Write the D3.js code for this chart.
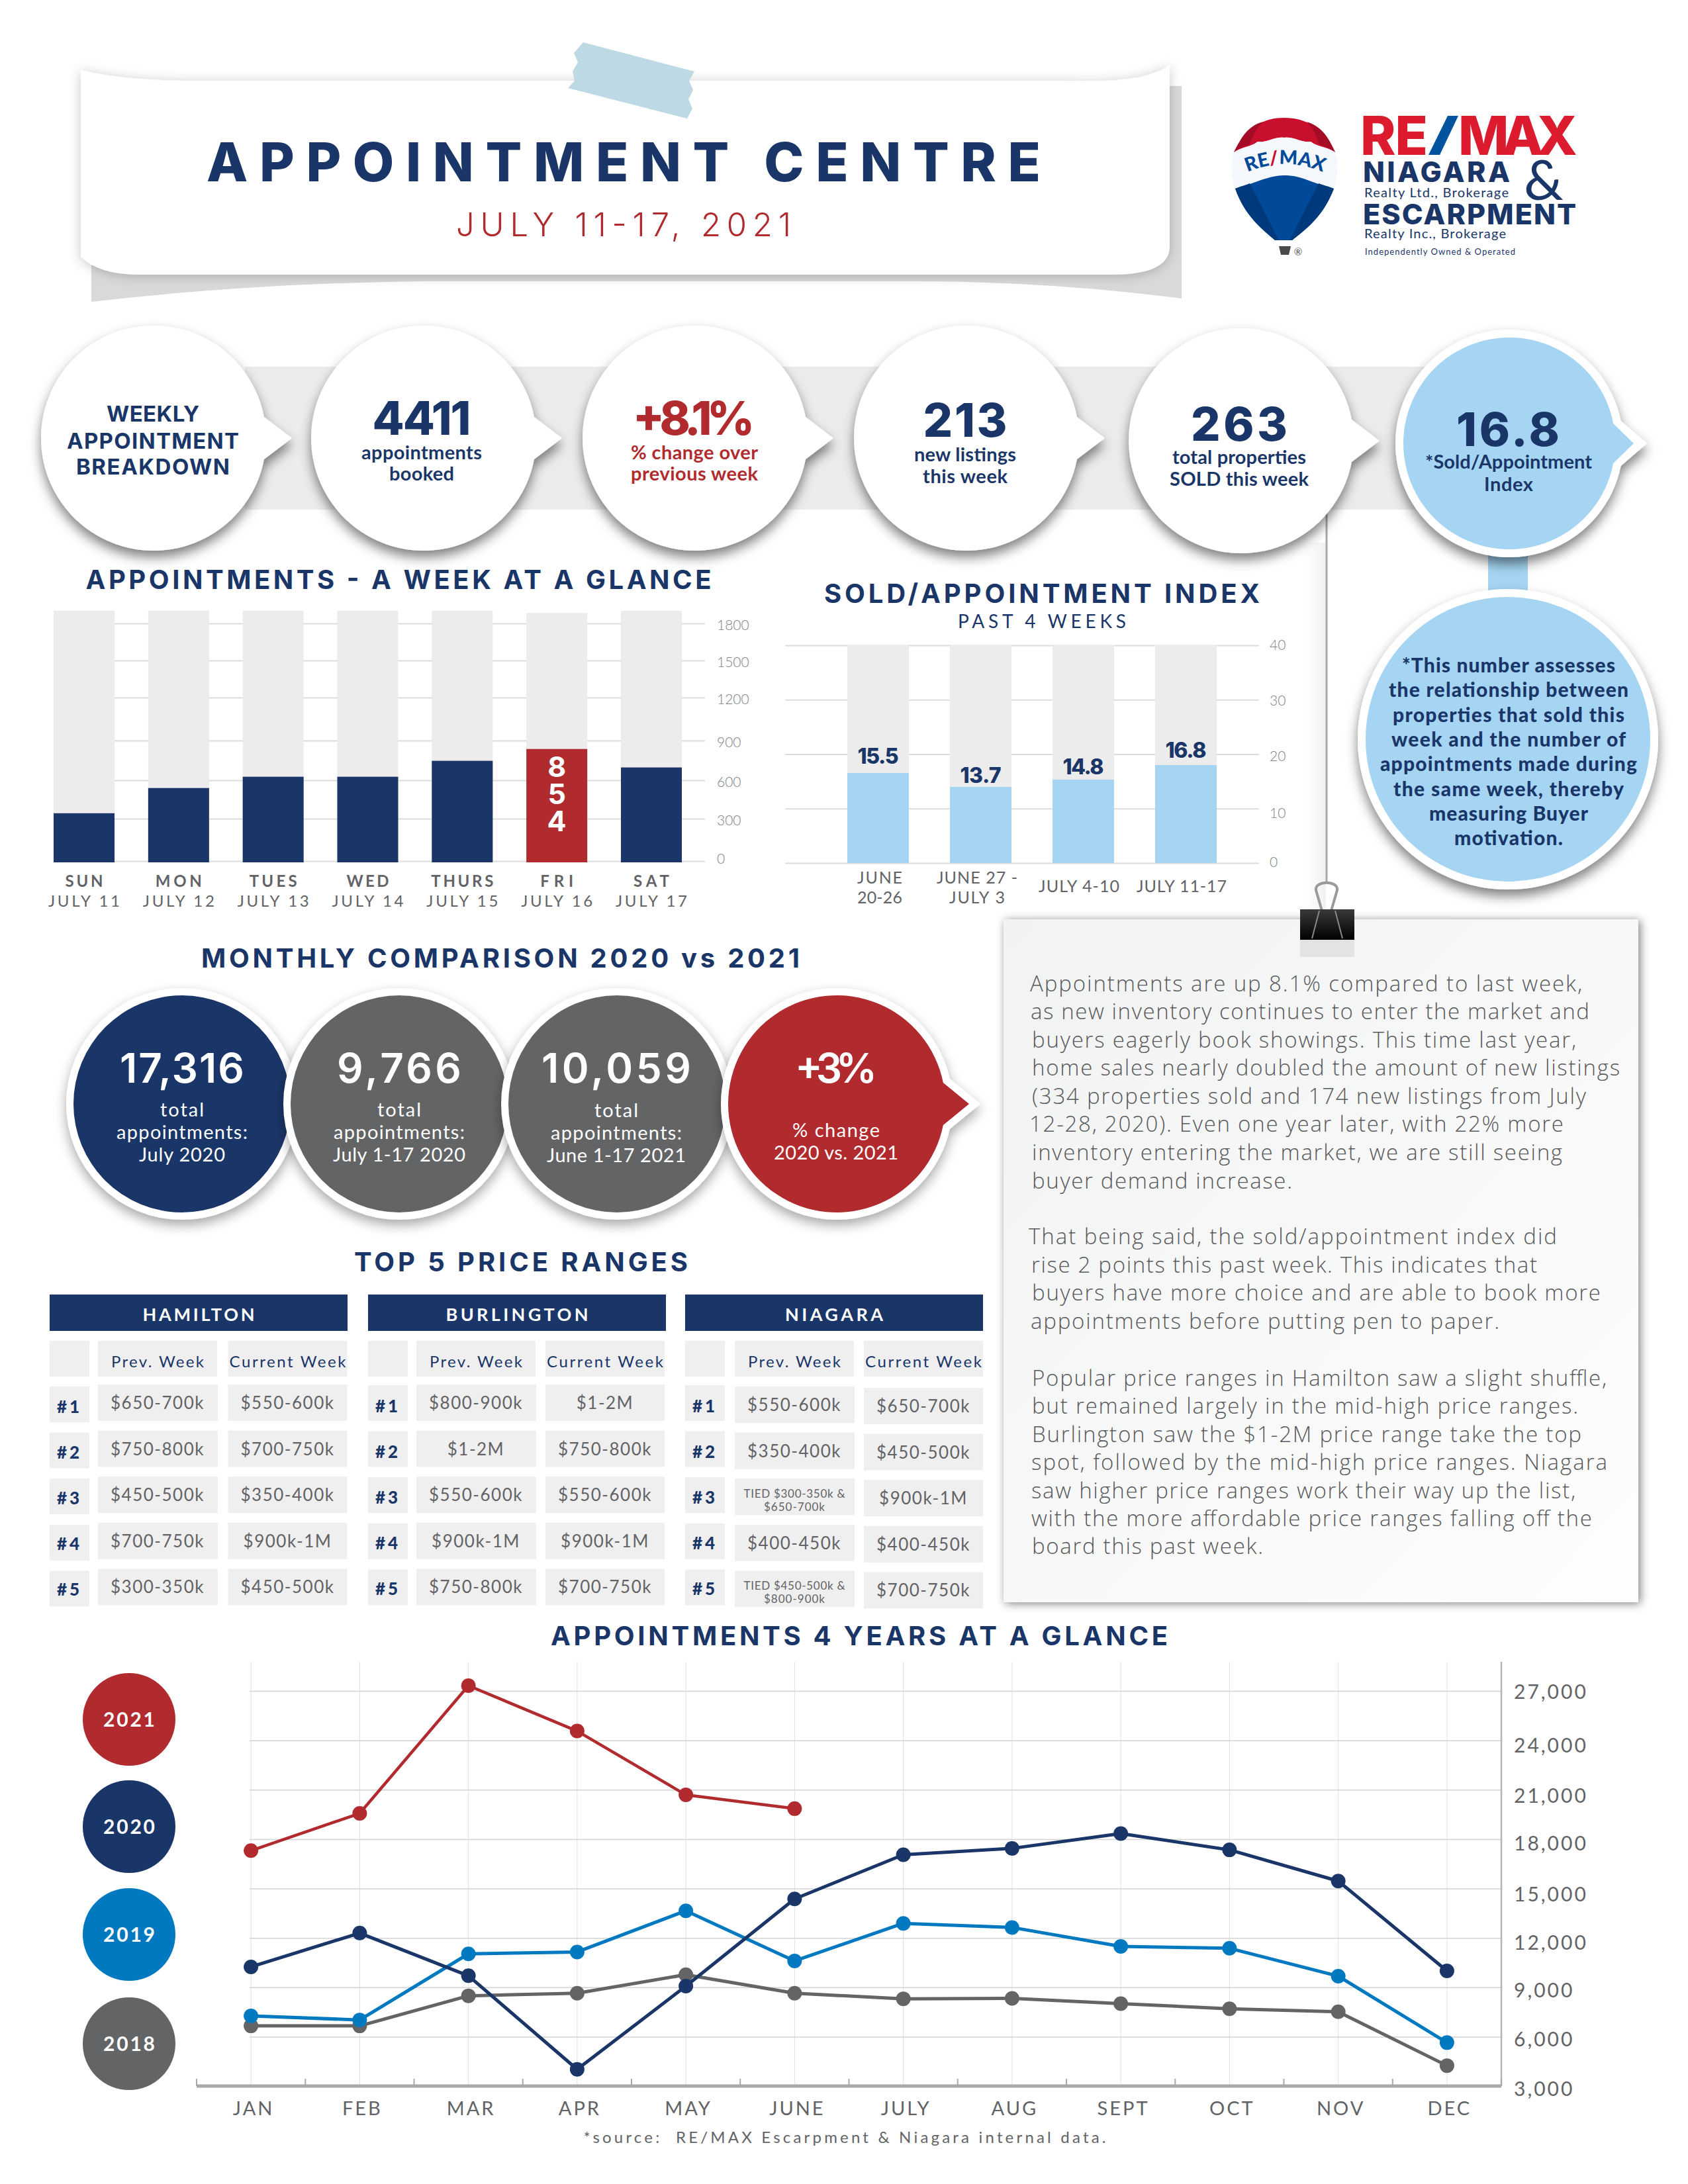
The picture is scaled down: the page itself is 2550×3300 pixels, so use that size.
<!DOCTYPE html>
<html><head><meta charset="utf-8">
<script src="https://cdnjs.cloudflare.com/ajax/libs/d3/7.8.5/d3.min.js"></script>
<style>html,body{margin:0;padding:0;background:#fff}svg{display:block}text{font-family:Lato,"Open Sans",sans-serif}</style>
</head><body>
<script>
// ---------- data ----------
const days=["SUN","MON","TUES","WED","THURS","FRI","SAT"];
const dates=["JULY 11","JULY 12","JULY 13","JULY 14","JULY 15","JULY 16","JULY 17"];
const appts=[370,560,645,645,765,854,715];
const apptsBack=[1895,1895,1895,1895,1895,1880,1895];
const weekTicks=[0,300,600,900,1200,1500,1800];
const indexWeeks=[["JUNE","20-26"],["JUNE 27 -","JULY 3"],["JULY 4-10"],["JULY 11-17"]];
const indexVals=[15.5,13.7,14.8,16.8];
const indexTicks=[0,10,20,30,40];
const months=["JAN","FEB","MAR","APR","MAY","JUNE","JULY","AUG","SEPT","OCT","NOV","DEC"];
const y2021=[17300,19560,27320,24565,20685,19850];
const y2020=[10240,12294,9700,4015,9068,14369,17050,17437,18340,17347,15452,9993];
const y2019=[7263,7015,11030,11143,13647,10602,12880,12632,11482,11369,9677,5639];
const y2018=[6654,6654,8482,8640,9767,8640,8301,8324,8008,7692,7511,4241];
const yearTicks=[3000,6000,9000,12000,15000,18000,21000,24000,27000];
const hamPrev=["$650-700k","$750-800k","$450-500k","$700-750k","$300-350k"];
const hamCurr=["$550-600k","$700-750k","$350-400k","$900k-1M","$450-500k"];
const burPrev=["$800-900k","$1-2M","$550-600k","$900k-1M","$750-800k"];
const burCurr=["$1-2M","$750-800k","$550-600k","$900k-1M","$700-750k"];
const niaPrev=["$550-600k","$350-400k","TIED $300-350k &|$650-700k","$400-450k","TIED $450-500k &|$800-900k"];
const niaCurr=["$650-700k","$450-500k","$900k-1M","$400-450k","$700-750k"];
const noteLines=["Appointments are up 8.1% compared to last week,","as new inventory continues to enter the market and","buyers eagerly book showings. This time last year,","home sales nearly doubled the amount of new listings","(334 properties sold and 174 new listings from July","12-28, 2020). Even one year later, with 22% more","inventory entering the market, we are still seeing","buyer demand increase.","That being said, the sold/appointment index did","rise 2 points this past week. This indicates that","buyers have more choice and are able to book more","appointments before putting pen to paper.","Popular price ranges in Hamilton saw a slight shuffle,","but remained largely in the mid-high price ranges.","Burlington saw the $1-2M price range take the top","spot, followed by the mid-high price ranges. Niagara","saw higher price ranges work their way up the list,","with the more affordable price ranges falling off the","board this past week."];
const explainLines=["*This number assesses","the relationship between","properties that sold this","week and the number of","appointments made during","the same week, thereby","measuring Buyer","motivation."];

// ---------- palette ----------
const NAVY="#1a3668",RED="#b12a2e",SKY="#a5d5f3",BLUE="#0079c1",DGRAY="#636466",TXT="#626366",TICK="#808285",BAR="#ececec",GRID="#dcdcdc";
const HEAD="Inter";

const svg=d3.select("body").append("svg").attr("width",2550).attr("height",3300).attr("viewBox","0 0 2550 3300");
const defs=svg.append("defs");
function shadow(id,dx,dy,sd,op){const f=defs.append("filter").attr("id",id).attr("x","-30%").attr("y","-30%").attr("width","160%").attr("height","170%");
 f.append("feDropShadow").attr("dx",dx).attr("dy",dy).attr("stdDeviation",sd).attr("flood-color","#000").attr("flood-opacity",op);}
shadow("bub",0,10,9,.5);shadow("soft",0,8,9,.35);shadow("ban",0,2,9,.22);shadow("panel",3,2,7,.5);
const lg=defs.append("linearGradient").attr("id","pg").attr("x1",0).attr("y1",0).attr("x2",1).attr("y2",1);
lg.append("stop").attr("offset",0).attr("stop-color","#f1f2f2");lg.append("stop").attr("offset",1).attr("stop-color","#fdfdfe");
const cg=defs.append("linearGradient").attr("id","clip").attr("x1",0).attr("y1",0).attr("x2",0).attr("y2",1);
cg.append("stop").attr("offset",0).attr("stop-color","#3a3a3a");cg.append("stop").attr("offset",1).attr("stop-color","#000");
const sg=defs.append("linearGradient").attr("id","side").attr("x1",0).attr("y1",0).attr("x2",1).attr("y2",0);
sg.append("stop").attr("offset",0).attr("stop-color","#f3f3f3").attr("stop-opacity",0);sg.append("stop").attr("offset",1).attr("stop-color","#f1f1f1");

function T(p,str,x,y,o={}){const t=p.append("text").attr("x",x).attr("y",y).text(str)
 .attr("font-size",o.s||24).attr("font-weight",o.w||400).attr("fill",o.c||NAVY).attr("text-anchor",o.a||"middle");
 if(o.f)t.style("font-family",o.f);
 if(o.len){t.attr("textLength",o.len).attr("lengthAdjust","spacing");}
 if(o.ls)t.attr("letter-spacing",o.ls);
 if(o.pre)t.style("white-space","pre");
 return t;}
function bubblePath(cx,cy,r,tip,h){const dx=Math.sqrt(r*r-h*h);
 return `M${cx+dx},${cy-h}A${r},${r} 0 1 0 ${cx+dx},${cy+h}L${tip},${cy}Z`;}

// ---------- banner ----------
const hdr=svg.append("g");
hdr.append("path").attr("d","M1700,130L1785,130L1785,451Q1580,425 1380,425L640,425Q380,428 138,456L138,380L400,380Z").attr("fill","#d9d9d9");
hdr.append("path").attr("d","M122,106Q190,122 290,122L1620,122Q1730,126 1767,98L1767,372Q1767,415 1680,415L210,415Q150,415 122,388Z").attr("fill","#fff").attr("filter","url(#ban)");
hdr.append("path").attr("d","M881,64L1049,108L1041,122L1047,136L1040,150L1046,164L1038,179L858,133L868,122L865,108L873,94L867,80Z").attr("fill","#bcd9e4");
T(hdr,"APPOINTMENT CENTRE",942,274,{s:81,w:800,f:HEAD,len:1260});
T(hdr,"JULY 11-17, 2021",942,357,{s:49,w:300,f:HEAD,c:RED,len:506});

// ---------- logo ----------
const logo=svg.append("g");
logo.append("path").attr("d","M1864,230C1885,190 1910,178 1940,178C1972,178 1998,192 2017,230C2005,222 1990,222 1980,214C1965,216 1955,206 1940,208C1925,206 1915,216 1900,214C1890,222 1876,222 1864,230Z").attr("fill","#c8102e");
logo.append("path").attr("d","M1864,230C1876,222 1890,222 1900,214C1915,216 1925,206 1940,208C1955,206 1965,216 1980,214C1990,222 2005,222 2017,230C2023,250 2020,270 2015,285C2000,280 1990,278 1975,272C1960,266 1950,265 1940,265C1928,265 1918,268 1905,272C1890,278 1880,280 1866,285C1860,268 1858,250 1864,230Z").attr("fill","#f4f7fc");
logo.append("path").attr("d","M1866,285C1880,280 1890,278 1905,272C1918,268 1928,265 1940,265C1950,265 1960,266 1975,272C1990,278 2000,280 2015,285C2000,325 1975,345 1952,363L1926,363C1905,345 1880,325 1866,285Z").attr("fill","#004a99");
logo.append("path").attr("d","M1866,285C1875,281 1882,280 1888,277L1932,363L1926,363C1905,345 1880,325 1866,285ZM2015,285C2006,281 1999,280 1992,277L1948,363L1952,363C1975,345 2000,325 2015,285Z").attr("fill","#003a7d");
logo.append("path").attr("d","M1864,230C1876,222 1882,220 1888,218C1894,200 1900,192 1908,184C1885,190 1875,208 1864,230ZM2017,230C2005,222 1999,220 1993,218C1987,200 1982,192 1974,184C1998,192 2007,208 2017,230Z").attr("fill","#a50d26");
logo.append("path").attr("d","M1932,372L1950,372L1947,385L1935,385Z").attr("fill","#4a4a4a");
T(logo,"®",1961,386,{s:15,c:"#555"});
logo.append("path").attr("id","balloonArc").attr("d","M1880,262Q1941,234 2003,262").attr("fill","none");
const bt=logo.append("text").attr("font-size",29).attr("font-weight",900).attr("fill","#004a99");
const tp=bt.append("textPath").attr("href","#balloonArc").attr("startOffset","50%").attr("text-anchor","middle");
tp.append("tspan").text("RE");tp.append("tspan").attr("fill","#c8102e").text("/");tp.append("tspan").text("MAX");
T(logo,"RE",2055,234,{s:81,w:800,f:HEAD,c:"#dc1c2e",a:"start",len:102});
logo.append("path").attr("d","M2158,234L2187,175L2203,175L2175,234Z").attr("fill","#00539f");
T(logo,"MAX",2203,234,{s:81,w:800,f:HEAD,c:"#dc1c2e",a:"start",len:180});
T(logo,"NIAGARA",2059,275,{s:43,w:800,f:HEAD,a:"start",len:222});
T(logo,"Realty Ltd., Brokerage",2061,298,{s:20,w:400,a:"start",len:218});
T(logo,"ESCARPMENT",2059,339,{s:43,w:800,f:HEAD,a:"start",len:322});
T(logo,"Realty Inc., Brokerage",2061,360,{s:20,w:400,a:"start",len:214});
T(logo,"Independently Owned & Operated",2062,385,{s:13,w:400,a:"start",len:227});
T(logo,"&",2332,302,{s:84,w:400});

// ---------- stat bubbles ----------
const stats=svg.append("g");
stats.append("rect").attr("x",370).attr("y",554).attr("width",1800).attr("height",216).attr("fill","#ececec");
stats.append("rect").attr("x",1971).attr("y",820).attr("width",32).attr("height",560).attr("fill","url(#side)");
stats.append("line").attr("x1",2004).attr("x2",2004).attr("y1",770).attr("y2",1335).attr("stroke","#a7a9ac").attr("stroke-width",3);
[[232,662],[640,662],[1050,662],[1460,662],[1875,666]].forEach(([cx,cy])=>{
 stats.append("path").attr("d",bubblePath(cx,cy,170,cx+209,32)).attr("fill","#fff").attr("filter","url(#bub)");});
stats.append("rect").attr("x",2248).attr("y",835).attr("width",60).attr("height",60).attr("fill",SKY);
stats.append("path").attr("d",bubblePath(2280,670,172,2488,34)).attr("fill","#fff").attr("filter","url(#bub)");
stats.append("path").attr("d",bubblePath(2280,670,160,2468,30)).attr("fill",SKY);
T(stats,"WEEKLY",231,637,{s:33,w:700,f:HEAD,len:140});
T(stats,"APPOINTMENT",231,678,{s:33,w:700,f:HEAD,len:260});
T(stats,"BREAKDOWN",231,717,{s:33,w:700,f:HEAD,len:232});
const big=(s,x,y,l,c)=>T(stats,s,x+2,y,{s:70,w:800,f:HEAD,c:c||NAVY,len:l});
const sm=(s,x,y,l,c)=>T(stats,s,x+2,y+1,{s:29,w:700,c:c||NAVY,len:l});
big("4411",635,657,149);sm("appointments",635,693,182);sm("booked",635,725,98);
big("+8.1%",1046,657,184,RED);sm("% change over",1047,693,192,RED);sm("previous week",1047,725,192,RED);
big("213",1456,660,127);sm("new listings",1456,696,154);sm("this week",1456,729,128);
big("263",1870,666,146);sm("total properties",1870,700,202);sm("SOLD this week",1870,733,210);
big("16.8",2276,674,156);sm("*Sold/Appointment",2277,707,252);sm("Index",2277,741,74);
// explanation bubble
stats.append("circle").attr("cx",2278).attr("cy",1117).attr("r",227).attr("fill","#fff").attr("filter","url(#bub)");
stats.append("circle").attr("cx",2278).attr("cy",1117).attr("r",215).attr("fill",SKY);
const explainW=[322,362,350,354,388,348,240,164];
explainLines.forEach((l,i)=>T(stats,l,2279,1016+i*37.3,{s:30,w:900,len:explainW[i]}));

// ---------- week chart ----------
const wk=svg.append("g");
T(wk,"APPOINTMENTS - A WEEK AT A GLANCE",602,890,{s:40,w:700,f:HEAD,len:945});
const xWeek=d3.scaleBand().domain(days).range([81,1030]).paddingInner(50.8/142.8).paddingOuter(0);
const yWeek=d3.scaleLinear().domain([0,1800]).range([1303,942]);
const yWeekAxis=d3.scaleLinear().domain(weekTicks).range([1301,1237,1179,1119,1054,998,942]);
const wa=wk.append("g").attr("transform","translate(1065,0)").call(d3.axisRight(yWeekAxis).tickValues(weekTicks).tickFormat(d=>d).tickSize(-984).tickPadding(18));
wa.select(".domain").remove();wa.selectAll("line").attr("stroke",GRID).attr("stroke-width",2);
wa.selectAll("text").attr("font-size",21).attr("font-weight",300).attr("fill",TICK).attr("dy",d=>d==0?3:9);
wk.selectAll(".bk").data(days).join("rect").attr("x",d=>xWeek(d)).attr("width",xWeek.bandwidth())
 .attr("y",(d,i)=>yWeek(apptsBack[i])).attr("height",(d,i)=>yWeek(0)-yWeek(apptsBack[i])).attr("fill",BAR);
wk.selectAll(".fg").data(appts).join("rect").attr("x",(d,i)=>xWeek(days[i])).attr("width",xWeek.bandwidth())
 .attr("y",d=>yWeek(d)).attr("height",d=>yWeek(0)-yWeek(d)).attr("fill",(d,i)=>days[i]=="FRI"?RED:NAVY);
const maxIdx=appts.indexOf(d3.max(appts));
String(appts[maxIdx]).split("").forEach((ch,i)=>T(wk,ch,xWeek(days[maxIdx])+xWeek.bandwidth()/2,1174+i*41,{s:43,w:700,f:HEAD,c:"#fff"}));
const dayW=[57,70,72,64,94,50,54];
days.forEach((d,i)=>{const cx=xWeek(d)+xWeek.bandwidth()/2;
 T(wk,d,cx,1340,{s:24,w:700,c:TXT,len:dayW[i]});
 T(wk,dates[i],cx,1370,{s:24,w:400,c:TXT,len:108});});

// ---------- index chart ----------
const ix=svg.append("g");
T(ix,"SOLD/APPOINTMENT INDEX",1574,911,{s:40,w:700,f:HEAD,len:658});
T(ix,"PAST 4 WEEKS",1574,949,{s:28,w:400,len:254});
const yIndex=d3.scaleLinear().domain([0,40]).range([1304,975]);
const yIndexBar=d3.scaleLinear().domain([0,13.7,14.8,15.5,16.8]).range([1304,1189,1178,1168,1156]);
const xIndex=d3.scaleBand().domain(d3.range(4)).range([1280,1838]).paddingInner(.4).paddingOuter(0);
const ia=ix.append("g").attr("transform","translate(1902,0)").call(d3.axisRight(yIndex).tickValues(indexTicks).tickSize(-716).tickPadding(16));
ia.select(".domain").remove();ia.selectAll("line").attr("stroke",GRID).attr("stroke-width",2);
ia.selectAll("text").attr("font-size",21).attr("font-weight",300).attr("fill",TICK).attr("dy",d=>({40:6,30:8,20:10,10:14,0:5})[d]);
ix.selectAll(".bk").data(indexVals).join("rect").attr("x",(d,i)=>xIndex(i)).attr("width",xIndex.bandwidth())
 .attr("y",yIndex(40)).attr("height",yIndex(0)-yIndex(40)).attr("fill",BAR);
ix.selectAll(".fg").data(indexVals).join("rect").attr("x",(d,i)=>xIndex(i)).attr("width",xIndex.bandwidth())
 .attr("y",d=>yIndexBar(d)).attr("height",d=>yIndexBar(0)-yIndexBar(d)).attr("fill",SKY);
const idxGap=[14,6,8,11];
indexVals.forEach((v,i)=>T(ix,v.toFixed(1),xIndex(i)+xIndex.bandwidth()/2,yIndexBar(v)-idxGap[i],{s:32,w:800,f:HEAD,len:62}));
const idxCx=[1329,1476,1630,1785];
indexWeeks.forEach((ls,i)=>{
 if(ls.length==2){const w=[[68,68],[122,84]][i];T(ix,ls[0],idxCx[i],1335,{s:25,w:400,c:TXT,len:w[0]});T(ix,ls[1],idxCx[i],1365,{s:25,w:400,c:TXT,len:w[1]});}
 else T(ix,ls[0],idxCx[i],1348,{s:25,w:400,c:TXT,len:i==2?122:136});});

// ---------- note panel ----------
const np=svg.append("g");
np.append("rect").attr("x",1516).attr("y",1389).attr("width",959).attr("height",1032).attr("fill","url(#pg)").attr("filter","url(#panel)");
const noteY=[1500,1542,1585,1627,1670,1712,1755,1797.5,1882,1925,1967,2010,2096,2138,2181,2223,2266,2308,2350];
const noteX=[1556,1557,1559,1559,1559,1555,1559,1559,1554,1558,1559,1557,1559,1559,1559,1558,1558,1558,1559];
const noteW=[834,844,822,888,837,807,801,393,798,764,859,708,868,825,830,870,822,847,349];
noteLines.forEach((l,i)=>T(np,l,noteX[i],noteY[i]-2,{s:33,w:300,f:"Open Sans",c:"#58595b",a:"start",len:noteW[i]}));
// binder clip
np.append("rect").attr("x",1964).attr("y",1420).attr("width",82).attr("height",26).attr("fill","#000").attr("opacity",.07);
np.append("path").attr("d","M1997,1376L1988,1345C1986,1330 2022,1330 2020,1345L2011,1376").attr("fill","none").attr("stroke","#9a9a9a").attr("stroke-width",4);
np.append("rect").attr("x",1964).attr("y",1374).attr("width",82).attr("height",46).attr("fill","url(#clip)");
np.append("path").attr("d","M1993,1376L1982,1418M2017,1376L2028,1418").attr("stroke","#8a8a8a").attr("stroke-width",2);

// ---------- monthly comparison ----------
const mc=svg.append("g");
T(mc,"MONTHLY COMPARISON 2020 vs 2021",756,1462,{s:40,w:700,f:HEAD,len:904});
const mCirc=[{cx:275,c:NAVY},{cx:603,c:DGRAY},{cx:932,c:DGRAY},{cx:1264,c:RED,tip:1481,in:1464}];
mCirc.forEach(d=>{
 if(d.tip){mc.append("path").attr("d",bubblePath(d.cx,1668,175,d.tip,38)).attr("fill","#fff").attr("filter","url(#soft)");
  mc.append("path").attr("d",bubblePath(d.cx,1668,164,d.in,32)).attr("fill",d.c);}
 else{mc.append("circle").attr("cx",d.cx).attr("cy",1668).attr("r",175).attr("fill","#fff").attr("filter","url(#soft)");
  mc.append("circle").attr("cx",d.cx).attr("cy",1668).attr("r",164).attr("fill",d.c);}
});
const mNum=(s,x,l)=>T(mc,s,x,1636,{s:62,w:600,f:HEAD,c:"#fff",len:l});
const mSm=(s,x,y,l)=>T(mc,s,x,y,{s:29,w:400,c:"#fff",len:l});
mNum("17,316",275,188);mSm("total",275,1687,66);mSm("appointments:",275,1721,198);mSm("July 2020",275,1755,130);
mNum("9,766",603,188);mSm("total",603,1687,66);mSm("appointments:",603,1721,198);mSm("July 1-17 2020",603,1755,200);
mNum("10,059",931,226);mSm("total",931,1688,66);mSm("appointments:",931,1722,198);mSm("June 1-17 2021",931,1756,210);
mNum("+3%",1263,124);mSm("% change",1263,1718,132);mSm("2020 vs. 2021",1263,1752,188);

// ---------- top 5 ----------
const tb=svg.append("g");
T(tb,"TOP 5 PRICE RANGES",787,1921,{s:40,w:700,f:HEAD,len:504});
const tables=[
 {name:"HAMILTON",nw:169,hx:75,rx:75,px:148,cx:344.5,prev:hamPrev,curr:hamCurr,py:2092,cy:2092,ry:2095,ty:0,cty:0,ryT:0},
 {name:"BURLINGTON",nw:215,hx:556,rx:556,px:629,cx:824,prev:burPrev,curr:burCurr,py:2092,cy:2092,ry:2093,ty:0,cty:0,ryT:-1},
 {name:"NIAGARA",nw:148,hx:1035,rx:1035,px:1110,cx:1305,prev:niaPrev,curr:niaCurr,py:2095,cy:2097,ry:2093,ty:3,cty:5,ryT:-1}];
const CELL="#efefef";
tables.forEach(t=>{
 tb.append("rect").attr("x",t.hx).attr("y",1956).attr("width",450).attr("height",55).attr("fill",NAVY);
 T(tb,t.name,t.hx+225,1996,{s:27,w:700,c:"#fff",len:t.nw});
 tb.append("rect").attr("x",t.rx).attr("y",2026).attr("width",60).attr("height",54).attr("fill",CELL);
 [[t.px,"Prev. Week",140],[t.cx,"Current Week",176]].forEach(([x,s,w])=>{
  tb.append("rect").attr("x",x).attr("y",2026).attr("width",180).attr("height",54).attr("fill",CELL);
  T(tb,s,x+90,2066,{s:24,w:400,len:w});});
 t.prev.forEach((v,i)=>{
  tb.append("rect").attr("x",t.rx).attr("y",t.ry+i*69.6).attr("width",60).attr("height",54).attr("fill",CELL);
  T(tb,"#"+(i+1),t.rx+28,2135+t.ryT+i*69,{s:26,w:900,len:34});
  tb.append("rect").attr("x",t.px).attr("y",t.py+i*69.6).attr("width",181).attr("height",55).attr("fill",CELL);
  tb.append("rect").attr("x",t.cx).attr("y",t.cy+i*69.6).attr("width",180).attr("height",55).attr("fill",CELL);
  const base=2129+i*69.6;
  if(v.includes("|")){const p=v.split("|");
   T(tb,p[0],t.px+90,base+t.ty-8,{s:17,w:400,c:TXT,len:153});T(tb,p[1],t.px+90,base+t.ty+12,{s:17,w:400,c:TXT,len:92});}
  else T(tb,v,t.px+90,base+t.ty,{s:26,w:400,c:TXT,ls:1.5});
  T(tb,t.curr[i],t.cx+90,base+t.cty,{s:26,w:400,c:TXT,ls:1.5});
 });
});

// ---------- 4 year chart ----------
const yr=svg.append("g");
T(yr,"APPOINTMENTS 4 YEARS AT A GLANCE",1298,2486,{s:40,w:700,f:HEAD,len:932});
const yearsLegend=[["2021",RED,2598],["2020",NAVY,2760],["2019",BLUE,2923],["2018",DGRAY,3088]];
yearsLegend.forEach(([s,c,cy])=>{yr.append("circle").attr("cx",195).attr("cy",cy).attr("r",70).attr("fill",c);
 T(yr,s,195,cy+11,{s:30,w:700,c:"#fff",len:78});});
const xYear=d3.scaleBand().domain(months).range([297,2268]);
const yYear=d3.scaleLinear().domain([3000,27000]).range([3152,2555]);
const cxm=m=>xYear(m)+xYear.bandwidth()/2;
const ga=yr.append("g").attr("transform","translate(0,3152)").call(d3.axisBottom(xYear).tickSize(-641).tickPadding(23));
ga.select(".domain").remove();ga.selectAll("line").attr("stroke","#e0e0e0").attr("stroke-width",1);
ga.selectAll("text").attr("font-size",29).attr("font-weight",400).attr("fill",TXT).attr("letter-spacing",3).attr("dx",4);
const ya=yr.append("g").attr("transform","translate(2268,0)").call(d3.axisRight(yYear).tickValues(yearTicks).tickFormat(d3.format(",")).tickSize(-1891).tickPadding(19));
ya.select(".domain").remove();ya.selectAll("line").attr("stroke","#d3d3d3").attr("stroke-width",1.5);
ya.selectAll("text").attr("font-size",30).attr("font-weight",400).attr("fill",TXT).attr("letter-spacing",3)
 .attr("dy",d=>({3000:14,6000:14,9000:15,12000:17,15000:19,18000:17,21000:19,24000:18,27000:11})[d]);
yr.append("line").attr("x1",2268).attr("x2",2268).attr("y1",2511).attr("y2",3152).attr("stroke","#b5b5b5").attr("stroke-width",2.5);
yr.append("line").attr("x1",297).attr("x2",2268).attr("y1",3152).attr("y2",3152).attr("stroke","#a7a9ac").attr("stroke-width",5);
yr.selectAll(".bt").data(months.concat(["end"])).join("line").attr("x1",(d,i)=>297+i*xYear.step()).attr("x2",(d,i)=>297+i*xYear.step())
 .attr("y1",3141).attr("y2",3152).attr("stroke","#a7a9ac").attr("stroke-width",2);
const lineGen=d3.line().x((d,i)=>cxm(months[i])).y(d=>yYear(d));
[[y2018,DGRAY,5],[y2019,BLUE,5],[y2020,NAVY,5],[y2021,RED,4.5]].forEach(([s,c,w])=>{
 yr.append("path").datum(s).attr("d",lineGen).attr("fill","none").attr("stroke",c).attr("stroke-width",w).attr("stroke-linejoin","round");
 yr.selectAll(null).data(s).join("circle").attr("cx",(d,i)=>cxm(months[i])).attr("cy",d=>yYear(d)).attr("r",11).attr("fill",c);
});
T(yr,"*source:  RE/MAX Escarpment & Niagara internal data.",1276,3238,{s:24,w:400,c:TXT,len:789,pre:true});
</script>
</body></html>
